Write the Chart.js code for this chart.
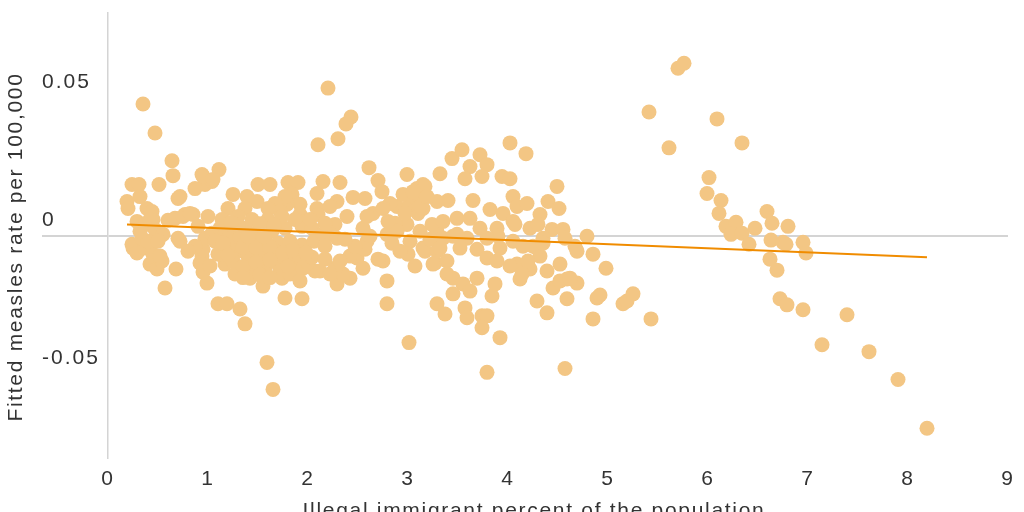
<!DOCTYPE html>
<html>
<head>
<meta charset="utf-8">
<script src="https://cdn.jsdelivr.net/npm/chart.js@4/dist/chart.umd.min.js"></script>
<style>
  html, body { margin: 0; padding: 0; background: #fff; }
  #wrap { width: 1024px; height: 512px; }
</style>
</head>
<body>
<div id="wrap"><canvas id="measlesChart"></canvas></div>
<script>
// immigrant percent (x) vs fitted measles rate (y)
const clusterWest = [
  [0.19,0.0126],[0.20,0.0101],[0.24,0.0188],[0.31,0.0188],[0.32,0.0144],[0.39,0.0101],[0.44,0.0090],[0.51,0.0188],
  [0.35,0.0480],[0.47,0.0375],[0.64,0.0274],[0.65,0.0220],[0.72,0.0144],[0.70,0.0137],
  [0.45,0.0061],[0.29,0.0054],[0.37,0.0043],[0.42,0.0061],[0.47,0.0025],[0.55,0.0007],[0.60,0.0058],[0.77,0.0079],
  [0.85,0.0079],[0.67,0.0065],[0.75,0.0072],[0.82,0.0083],[1.00,0.0072],
  [0.25,-0.0043],[0.24,-0.0029],[0.29,-0.0061],[0.37,-0.0043],[0.45,-0.0065],[0.42,-0.0101],[0.49,-0.0119],
  [0.54,-0.0090],[0.57,-0.0188],[0.68,-0.0119],[0.72,-0.0018],[0.70,-0.0007],[0.34,-0.0007],[0.40,-0.0018],
  [0.50,-0.0018],[0.32,0.0018],[0.52,-0.0072],
  [0.94,0.0224],[0.97,0.0188],[0.87,0.0173],[1.04,0.0199],[1.11,0.0242],[0.95,0.0217],
  [0.94,-0.0072],[0.95,-0.0047],[0.95,-0.0130],[0.97,-0.0007],[1.04,0.0011],[1.10,-0.0245],[1.19,-0.0245],
  [1.32,-0.0264],[1.37,-0.0318],[0.90,0.0036],[0.87,-0.0036],[0.80,-0.0054],[0.92,-0.0097],
  [1.05,0.0206],[1.12,0.0029],[1.17,0.0007],[1.27,0.0025],[1.37,0.0029],[1.50,0.0018],[1.64,0.0018],[1.77,0.0029],
  [1.94,0.0036],[2.04,0.0029],
  [1.14,-0.0043],[1.24,-0.0043],[1.30,-0.0054],[1.17,-0.0101],[1.27,-0.0137],[1.40,-0.0072],[1.54,-0.0065],
  [1.44,-0.0115],[1.57,-0.0119],[1.42,-0.0152],[1.55,-0.0181],[1.70,-0.0101],[1.79,-0.0090],[1.74,-0.0152],
  [1.87,-0.0137],[1.97,-0.0101],[2.07,-0.0126],[1.77,-0.0224],[1.94,-0.0227],
  [1.25,0.0152],[1.39,0.0144],[1.49,0.0126],[1.50,0.0188],[1.62,0.0188],[1.80,0.0195],[1.90,0.0195],[2.09,0.0155],
  [2.15,0.0199],[2.10,0.0332],
  [1.84,0.0152],[1.92,0.0116],[1.79,0.0116],[1.77,0.0144],[1.67,0.0119],[1.72,0.0090],[1.60,0.0101],[1.37,0.0101],
  [1.20,0.0101],[1.92,0.0079],[2.09,0.0101],[2.10,0.0079],
  [1.72,-0.0126],[1.82,-0.0137],[1.87,-0.0090],[1.95,-0.0116],[1.92,-0.0162],[2.00,-0.0097],
  [1.07,-0.0018],[1.20,-0.0011],[1.32,-0.0004],[1.44,-0.0018],[1.57,-0.0011],[1.70,-0.0025],[1.82,-0.0018],
  [1.94,-0.0032],[2.06,-0.0018],
  [1.14,0.0061],[1.30,0.0072],[1.44,0.0061],[1.60,0.0061],[1.74,0.0072],[1.87,0.0061],[2.02,0.0061],
  [1.67,-0.0054],[1.90,-0.0061],[2.04,-0.0076],[1.10,-0.0065],[1.02,-0.0108],[0.99,-0.0170],
  [1.15,-0.0025],[1.25,-0.0090],[1.35,-0.0040],[1.35,-0.0110],[1.48,-0.0040],[1.48,-0.0095],[1.62,-0.0040],
  [1.62,-0.0085],[1.75,-0.0060],[1.85,-0.0050],[1.30,0.0040],[1.52,0.0045],[1.66,0.0040],[1.20,-0.0070],
  [1.52,-0.0140],[1.62,-0.0150],[1.35,-0.0150],[1.80,-0.0110],[1.98,-0.0060],[1.40,0.0000],[1.56,0.0000],
  [1.23,0.0050],
  [1.59,-0.0458],[1.65,-0.0556]
];

const clusterCentral = [
  [2.20,0.0538],[2.43,0.0433],[2.38,0.0408],[2.30,0.0354],[2.61,0.0249],[2.70,0.0202],[2.74,0.0162],[2.99,0.0224],
  [3.15,0.0188],
  [2.32,0.0195],[2.29,0.0126],[2.45,0.0141],[2.57,0.0137],[2.65,0.0083],[2.39,0.0072],[2.27,0.0043],[2.22,0.0007],
  [2.22,0.0108],[2.15,0.0007],[2.29,-0.0007],[2.59,-0.0018],[2.55,0.0029],[2.62,0.0000],[2.79,0.0007],[2.85,0.0025],
  [2.99,0.0043],[2.89,0.0108],[3.02,0.0116],[2.87,0.0047],[2.89,0.0018],[3.10,0.0126],[3.15,0.0101],[2.95,0.0152],
  [3.09,0.0173],[3.17,0.0181],[2.82,0.0119],[2.75,0.0101],[2.80,0.0054],[2.59,0.0072],
  [3.02,-0.0018],[2.84,-0.0025],[2.75,-0.0090],[2.79,-0.0162],[2.79,-0.0245],[3.00,-0.0065],[3.15,-0.0043],
  [2.49,-0.0079],[2.55,-0.0116],[2.42,-0.0152],[2.29,-0.0173],[2.42,-0.0072],[2.35,-0.0137],[2.27,-0.0116],
  [2.70,-0.0083],[2.57,-0.0047],[3.01,-0.0386],[3.17,-0.0054],[3.27,-0.0097],[2.32,-0.0090],[2.47,-0.0036],
  [2.37,-0.0011],[2.92,-0.0054],[3.07,-0.0108],[3.12,0.0018],[3.10,0.0083],[2.97,0.0083],[2.17,-0.0036],
  [2.17,0.0047],[2.17,-0.0083],[2.12,-0.0126],[2.22,-0.0137],
  [3.32,0.0227],[3.44,0.0282],[3.54,0.0314],[3.62,0.0253],[3.72,0.0296],[3.79,0.0260],[3.74,0.0217],[3.57,0.0209],
  [3.94,0.0217],
  [3.65,0.0130],[3.40,0.0130],[3.29,0.0126],[3.12,0.0108],[3.05,0.0162],[3.19,0.0144],[3.29,0.0018],[3.24,0.0043],
  [3.35,0.0054],[3.49,0.0065],[3.62,0.0065],[3.72,0.0029],[3.59,-0.0007],[3.45,0.0000],[3.89,0.0029],[3.82,0.0097],
  [3.95,0.0083],
  [3.90,0.0000],[3.79,-0.0007],[3.49,0.0007],[3.35,-0.0007],[3.22,-0.0011],[3.29,-0.0054],[3.32,-0.0043],
  [3.25,-0.0101],[3.39,-0.0090],[3.52,-0.0043],[3.69,-0.0047],[3.79,-0.0079],[3.89,-0.0090],[3.92,-0.0043],
  [3.39,-0.0137],[3.45,-0.0152],[3.55,-0.0173],[3.69,-0.0152],[3.62,-0.0199],[3.45,-0.0209],[3.87,-0.0173],
  [3.84,-0.0217],[3.29,-0.0245],[3.37,-0.0282],[3.57,-0.0260],[3.74,-0.0289],[3.79,-0.0289],[3.74,-0.0332],
  [3.92,-0.0368],[3.79,-0.0494],[3.59,-0.0296]
];

const clusterEast = [
  [4.02,0.0339],[4.18,0.0300],[4.02,0.0209],[4.05,0.0144],[4.09,0.0108],[4.19,0.0119],[4.05,0.0054],[4.07,0.0043],
  [4.22,0.0029],[4.40,0.0126],[4.49,0.0181],[4.51,0.0101],[4.32,0.0079],[4.30,0.0043],[4.44,0.0025],[4.55,0.0025],
  [4.35,-0.0007],[4.79,0.0000],[4.57,-0.0007],[4.05,-0.0018],[4.15,-0.0036],
  [4.09,-0.0101],[4.12,-0.0155],[4.25,-0.0036],[4.32,-0.0072],[4.22,-0.0119],[4.39,-0.0126],[4.52,-0.0101],
  [4.45,-0.0188],[4.59,-0.0155],[4.69,-0.0170],[4.59,-0.0227],[4.29,-0.0235],[4.39,-0.0278],[4.57,-0.0480],
  [4.02,-0.0108],[4.14,-0.0137],[4.20,-0.0090],[4.29,-0.0043],[4.35,-0.0025],[4.52,-0.0162],[4.62,-0.0152],
  [4.85,-0.0065],[4.98,-0.0116],[4.89,-0.0224],[4.85,-0.0300],[4.67,-0.0036],[4.69,-0.0054],[4.92,-0.0213],
  [5.15,-0.0245],[5.19,-0.0235],[5.25,-0.0209],[5.43,-0.0300]
];

const tailPoints = [
  [5.41,0.0451],[5.61,0.0321],[5.70,0.0610],[5.76,0.0628],[6.09,0.0426],[6.34,0.0339],[6.01,0.0213],[5.99,0.0155],
  [6.13,0.0130],[6.11,0.0083],[6.18,0.0036],[6.28,0.0051],[6.23,0.0007],[6.34,0.0011],[6.41,-0.0029],[6.47,0.0029],
  [6.59,0.0090],[6.64,0.0047],[6.63,-0.0014],[6.75,-0.0022],[6.78,-0.0029],[6.80,0.0036],[6.95,-0.0022],
  [6.98,-0.0061],[6.62,-0.0083],[6.69,-0.0123],[6.72,-0.0227],[6.79,-0.0249],[6.95,-0.0267],[7.14,-0.0394],
  [7.39,-0.0285],[7.61,-0.0419],[7.90,-0.0520],[8.19,-0.0697]
];

// fitted line end points
const fitLine = [[0.19, 0.0043], [8.19, -0.0076]];

const xTicks = [0, 1, 2, 3, 4, 5, 6, 7, 8, 9];
const yTicks = [-0.05, 0, 0.05];
const xTitle = 'Illegal immigrant percent of the population';
const yTitle = 'Fitted measles rate per 100,000';

const dotColor = '#f3c684';
const lineColor = '#f08c00';
const ruleColor = '#d4d4d4';
const textColor = '#333333';
const fontFamily = '"Liberation Sans", Arial, sans-serif';

const toXY = p => ({ x: p[0], y: p[1] });
const scatterData = [].concat(clusterWest, clusterCentral, clusterEast, tailPoints).map(toXY);

// the original typeface runs wider than Liberation Sans, so open up the spacing a little
const wideText = {
  id: 'wideText',
  beforeDraw(chart) {
    chart.ctx.letterSpacing = '2px';
  }
};

// axis titles drawn by hand so they sit where the original puts them
const axisTitles = {
  id: 'axisTitles',
  afterDraw(chart) {
    const ctx = chart.ctx;
    ctx.save();
    ctx.letterSpacing = '1.7px';
    ctx.fillStyle = textColor;
    ctx.font = '21px ' + fontFamily;
    ctx.textAlign = 'center';
    ctx.textBaseline = 'alphabetic';
    ctx.fillText(xTitle, 534, 517);
    ctx.translate(22, 247);
    ctx.rotate(-Math.PI / 2);
    ctx.fillText(yTitle, 0, 0);
    ctx.restore();
  }
};

const ctx = document.getElementById('measlesChart').getContext('2d');

new Chart(ctx, {
  type: 'scatter',
  data: {
    datasets: [
      {
        type: 'line',
        label: 'Fit',
        data: fitLine.map(toXY),
        borderColor: lineColor,
        borderWidth: 2,
        pointRadius: 0,
        fill: false,
        order: 0
      },
      {
        label: 'States',
        data: scatterData,
        backgroundColor: dotColor,
        borderWidth: 0,
        pointRadius: 7.5,
        pointHoverRadius: 7.5,
        order: 1
      }
    ]
  },
  options: {
    responsive: true,
    maintainAspectRatio: false,
    animation: false,
    events: [],
    layout: { padding: { left: 42, top: 10, right: 16, bottom: 0 } },
    plugins: {
      legend: { display: false },
      tooltip: { enabled: false }
    },
    scales: {
      x: {
        type: 'linear',
        min: 0,
        max: 9,
        afterBuildTicks: scale => { scale.ticks = xTicks.map(v => ({ value: v })); },
        afterFit: scale => { scale.height = 54; },
        grid: { display: false, drawTicks: false },
        border: { display: false },
        ticks: {
          padding: 9,
          color: textColor,
          font: { family: fontFamily, size: 21 }
        }
      },
      y: {
        type: 'linear',
        min: -0.0805,
        max: 0.0812,
        afterBuildTicks: scale => { scale.ticks = yTicks.map(v => ({ value: v })); },
        afterFit: scale => { scale.width = 66; },
        grid: {
          color: c => (c.tick && c.tick.value === 0 ? ruleColor : 'rgba(0,0,0,0)'),
          lineWidth: 2,
          drawTicks: true,
          tickLength: 66
        },
        border: { display: true, color: ruleColor, width: 1.5 },
        ticks: {
          crossAlign: 'far',
          labelOffset: -16,
          padding: 0,
          color: textColor,
          font: { family: fontFamily, size: 21 },
          callback: v => (v === 0 ? '0' : String(v))
        }
      }
    }
  },
  plugins: [wideText, axisTitles]
});
</script>
</body>
</html>
